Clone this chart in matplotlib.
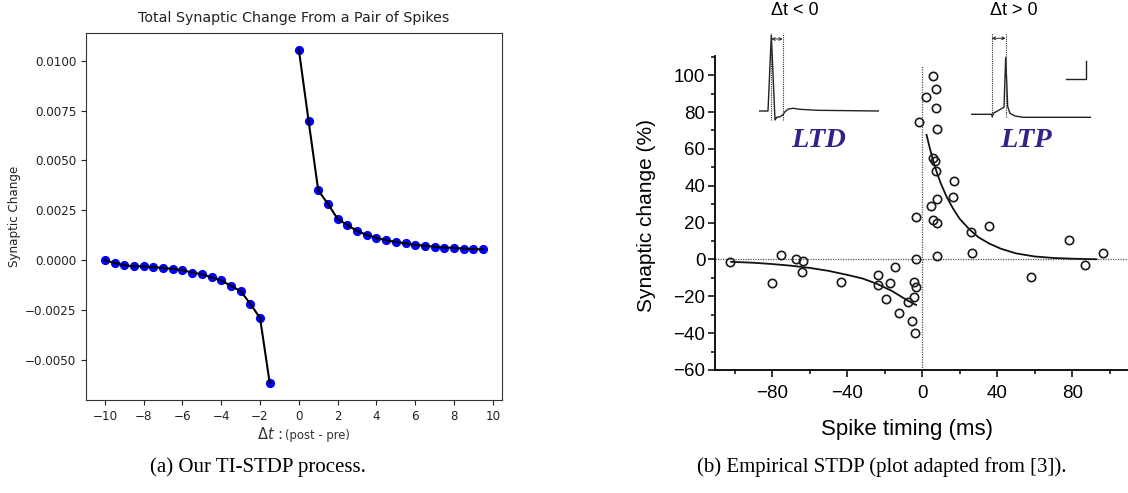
import numpy as np
import matplotlib
matplotlib.use("Agg")
import matplotlib.pyplot as plt
from matplotlib.ticker import MultipleLocator, FixedLocator

# ---- (a) TI-STDP simulation: synaptic change vs spike time difference
left_dt_neg = np.arange(-10.0, -1.25, 0.5)
left_dw_neg = [0.0, -0.00013, -0.00025, -0.0003, -0.0003, -0.00035, -0.00038,
               -0.00043, -0.0005, -0.00061, -0.0007, -0.00085, -0.00101,
               -0.00128, -0.00154, -0.00218, -0.00289, -0.00616]
left_dt_pos = np.arange(0.0, 9.75, 0.5)
left_dw_pos = [0.01055, 0.0070, 0.0035, 0.00283, 0.00207, 0.00177, 0.00147,
               0.00127, 0.00113, 0.00100, 0.00092, 0.00085, 0.00078, 0.00073,
               0.00068, 0.00064, 0.00062, 0.00059, 0.00056, 0.00055]

# ---- (b) empirical STDP (Bi & Poo)
emp_dt = [-102.7, -80.3, -75.3, -67.5, -63.4, -64.4, -43.6, -23.7, -23.6, -14.3,
          -17.3, -19.5, -12.4, -7.6, -4.5, -4.4, -3.5, -5.4, -4.0, -3.1,
          5.5, 7.3, 1.8, 7.3, -1.6, 8.0, 5.7, 6.9, 7.3, 16.7, 16.4, 8.0, 4.5,
          -3.2, 5.5, 7.7, 35.6, 26.1, 78.1, 96.2, 87.1, 58.0, 26.5, 8.0]
emp_dw = [-1.4, -12.7, 2.5, 0.3, -1.1, -6.6, -12.5, -8.2, -14.1, -4.3,
          -12.7, -21.4, -29.3, -22.9, -20.6, -12.5, -15.2, -33.2, -40.0, 0.3,
          99.6, 92.4, 88.0, 82.4, 74.8, 70.8, 55.2, 53.6, 48.2, 42.6, 34.0, 32.6, 29.1,
          23.2, 21.4, 19.9, 18.3, 14.8, 10.5, 3.6, -2.9, -9.8, 3.3, 2.0]

fit_ltd_t = [-102, -90, -80, -70, -60, -50, -40, -32, -24, -16, -8, -3.3]
fit_ltd_w = [-1.3, -1.8, -2.5, -3.4, -4.6, -6.2, -8.4, -10.3, -13.3, -17.2, -22.2, -24.7]
fit_ltp_t = [2.3, 4, 6, 8, 10, 13, 16.5, 20, 25, 30, 36, 42, 50, 60, 70, 80, 93]
fit_ltp_w = [67.6, 60.5, 53, 46.5, 41, 34, 27.5, 22, 16.5, 12, 8.5, 5.8, 3.3, 1.6, 0.8, 0.4, 0.1]

# inset voltage traces (arbitrary units)
ltd_trace_t = [0, 9, 12.3, 16, 17.7, 21, 23.7, 26, 29.3, 34.3, 41, 57.7, 120]
ltd_trace_v = [0, 0, 76, -9, -6.3, -5.7, -4, -0.7, 2, 2.7, 1.7, 0.7, 0]
ltp_trace_t = [0, 20.7, 21.3, 22.3, 33, 34.7, 36.7, 39, 44, 52.3, 120]
ltp_trace_v = [2.7, 2.7, 0.3, 3.7, 9.7, 59.7, 10.3, 3.7, 1, -0.3, -0.3]

W, H = 1128, 493
fig = plt.figure(figsize=(W / 100, H / 100), dpi=100)


def box(x0, y0, x1, y1):
    # pixel box (top-left origin) -> figure fraction rect
    return [x0 / W, (H - y1) / H, (x1 - x0) / W, (y1 - y0) / H]


def fx(x):
    return x / W


def fy(y):
    return (H - y) / H


# ---------------- left panel
ax = fig.add_axes(box(86, 33, 502, 400))
ax.plot(left_dt_neg, left_dw_neg, 'o', color='blue', ms=5.6, zorder=2)
ax.plot(left_dt_pos, left_dw_pos, 'o', color='blue', ms=5.6, zorder=2)
ax.plot(left_dt_neg, left_dw_neg, '-', color='black', lw=1.5, zorder=3)
ax.plot(left_dt_pos, left_dw_pos, '-', color='black', lw=1.5, zorder=3)
ax.set_xticks(np.arange(-10, 11, 2))
ax.set_yticks([-0.005, -0.0025, 0.0, 0.0025, 0.005, 0.0075, 0.01])
ax.yaxis.set_major_formatter(matplotlib.ticker.FuncFormatter(
    lambda v, p: ('%.4f' % v).replace('-', '\u2212')))
ax.tick_params(labelsize=8.6, colors='#222222', length=3.5)
for s in ax.spines.values():
    s.set_color('#333333')

fig.text(fx(294), fy(18), 'Total Synaptic Change From a Pair of Spikes',
         fontsize=10.3, ha='center', va='center', color='#222222')
fig.text(fx(15), fy(216), 'Synaptic Change', fontsize=8.6, rotation=90,
         ha='center', va='center', color='#222222')
fig.text(fx(257), fy(439), r'$\Delta t$ :', fontsize=10.5, ha='left',
         va='baseline', color='#333333')
fig.text(fx(285), fy(439), '(post - pre)', fontsize=8.4, ha='left',
         va='baseline', color='#333333')

# ---------------- right panel
sans = 'Liberation Sans'
ax2 = fig.add_axes(box(715, 56, 1128, 370))
ax2.set_xlim(-110.6, 109.8)
ax2.set_ylim(-60, 110.4)
ax2.axhline(0, ls=(0, (1, 1)), color='#555555', lw=0.9, zorder=1)
ax2.vlines(0, -60, 105.5, linestyles=[(0, (1, 1))], colors='#555555', lw=0.9, zorder=1)
ax2.plot(fit_ltd_t, fit_ltd_w, '-', color='#111111', lw=1.3, zorder=2)
ax2.plot(fit_ltp_t, fit_ltp_w, '-', color='#111111', lw=1.3, zorder=2)
ax2.plot(emp_dt, emp_dw, 'o', mfc='none', mec='#1a1a1a', ms=6, mew=1.2,
         zorder=3, clip_on=False)
for side in ('top', 'right'):
    ax2.spines[side].set_visible(False)
for side in ('left', 'bottom'):
    ax2.spines[side].set_linewidth(1.3)
ax2.xaxis.set_major_locator(FixedLocator([-80, -40, 0, 40, 80]))
ax2.xaxis.set_minor_locator(FixedLocator([-100, -60, -20, 20, 60, 100]))
ax2.yaxis.set_major_locator(MultipleLocator(20))
ax2.yaxis.set_minor_locator(MultipleLocator(10))
ax2.tick_params(which='major', length=5, width=1.1, direction='out', labelsize=13.5, pad=2)
ax2.tick_params(which='minor', length=3, width=1.1, direction='out')
ax2.tick_params(axis='x', which='major', pad=6)
for lab in ax2.get_xticklabels() + ax2.get_yticklabels():
    lab.set_fontfamily(sans)
ax2.set_facecolor('none')

fig.text(fx(647), fy(216), 'Synaptic change (%)', fontsize=15, family=sans,
         rotation=90, ha='center', va='center')
fig.text(fx(907), fy(429), 'Spike timing (ms)', fontsize=16, family=sans,
         ha='center', va='center')

# spike-trace insets
ins1 = fig.add_axes(box(759, 30, 879, 125))
ins1.set_xlim(0, 120)
ins1.set_ylim(-14, 81)
ins1.axis('off')
ins1.plot(ltd_trace_t, ltd_trace_v, color='#222222', lw=1.0)
ins1.vlines([12.3, 23.7], -9, 78, linestyles=[(0, (1, 1))], colors='#333333', lw=0.8)
ins1.annotate('', xy=(23.7, 72), xytext=(12.3, 72),
              arrowprops=dict(arrowstyle='<->', lw=0.7, mutation_scale=5,
                              shrinkA=0, shrinkB=0, color='#222222'))

ins2 = fig.add_axes(box(971, 30, 1091, 125))
ins2.set_xlim(0, 120)
ins2.set_ylim(-8, 87)
ins2.axis('off')
ins2.plot(ltp_trace_t, ltp_trace_v, color='#222222', lw=1.0)
ins2.vlines([20.7, 34.7], 0, 84, linestyles=[(0, (1, 1))], colors='#333333', lw=0.8)
ins2.annotate('', xy=(34.7, 78.7), xytext=(20.7, 78.7),
              arrowprops=dict(arrowstyle='<->', lw=0.7, mutation_scale=5,
                              shrinkA=0, shrinkB=0, color='#222222'))
ins2.plot([95, 115, 115], [38, 38, 56], color='#222222', lw=1.0)

fig.text(fx(795), fy(15), '\u0394t < 0', fontsize=13, family=sans,
         ha='center', va='baseline')
fig.text(fx(1014), fy(15), '\u0394t > 0', fontsize=13, family=sans,
         ha='center', va='baseline')
purple = '#33228a'
fig.text(fx(818.5), fy(146.7), 'LTD', fontsize=20.5, family='Liberation Serif',
         weight='bold', style='italic', color=purple, ha='center', va='baseline')
fig.text(fx(1026), fy(146.7), 'LTP', fontsize=20.5, family='Liberation Serif',
         weight='bold', style='italic', color=purple, ha='center', va='baseline')

# captions
fig.text(fx(258), fy(466.7), '(a) Our TI-STDP process.', fontsize=15,
         family='Liberation Serif', ha='center', va='center')
fig.text(fx(881.7), fy(466.7), '(b) Empirical STDP (plot adapted from [3]).',
         fontsize=15, family='Liberation Serif', ha='center', va='center')

fig.savefig('out.png', dpi=100)
